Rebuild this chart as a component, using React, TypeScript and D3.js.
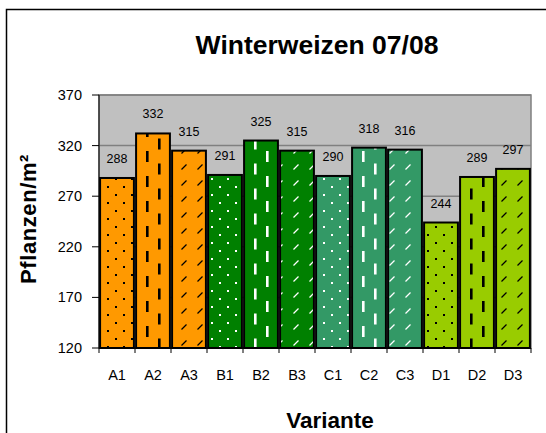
import React from "react";
import * as d3 from "d3";

const categories = ["A1", "A2", "A3", "B1", "B2", "B3", "C1", "C2", "C3", "D1", "D2", "D3"];
const values = [288, 332, 315, 291, 325, 315, 290, 318, 316, 244, 289, 297];
const groupColors = ["#FF9900", "#008000", "#339966", "#99CC00"];
const patternInk = ["#000000", "#ffffff", "#ffffff", "#000000"];
const patternKinds = ["dots", "dash", "diag"];
const yTicks = [120, 170, 220, 270, 320, 370];

const W = 546, H = 433;
const plot = { left: 99, right: 531, top: 95, bottom: 348 };
const FONT = "'Liberation Sans', Arial, sans-serif";

export default function App() {
  const x = d3.scaleBand<string>().domain(categories).range([plot.left, plot.right]).paddingInner(0.06).paddingOuter(0.03);
  const step = (plot.right - plot.left) / categories.length;
  const y = d3.scaleLinear().domain([120, 370]).range([plot.bottom, plot.top]);

  const inkNames = ["k", "w"];
  const patterns: JSX.Element[] = [];
  ["#000000", "#ffffff"].forEach((ink, ii) => {
    patterns.push(
      <pattern key={"dots" + ii} id={"dots-" + inkNames[ii]} patternUnits="userSpaceOnUse" width={16} height={16} x={3} y={2}>
        <rect x={0} y={0} width={2} height={2} fill={ink} />
        <rect x={8} y={8} width={2} height={2} fill={ink} />
      </pattern>
    );
    patterns.push(
      <pattern key={"dash" + ii} id={"dash-" + inkNames[ii]} patternUnits="userSpaceOnUse" width={24} height={25} x={2} y={0}>
        <rect x={0} y={1} width={2.6} height={11} fill={ink} />
        <rect x={12} y={13.5} width={2.6} height={11} fill={ink} />
      </pattern>
    );
    patterns.push(
      <pattern key={"diag" + ii} id={"diag-" + inkNames[ii]} patternUnits="userSpaceOnUse" width={16} height={16} x={4} y={3}>
        <line x1={1.5} y1={6.5} x2={6.5} y2={1.5} stroke={ink} strokeWidth={1.3} />
      </pattern>
    );
  });

  return (
    <svg width={W} height={H} style={{ position: "absolute", left: 0, top: 0 }} fontFamily={FONT}>
      <defs>{patterns}</defs>
      <rect x={0} y={0} width={W} height={H} fill="#fff" />
      <rect x={6.5} y={9.5} width={600} height={500} fill="none" stroke="#000" strokeWidth={1.5} />

      <text x={317} y={54} textAnchor="middle" fontSize={26.5} fontWeight="bold">Winterweizen 07/08</text>

      {/* plot area */}
      <rect x={plot.left} y={plot.top} width={plot.right - plot.left} height={plot.bottom - plot.top} fill="#C0C0C0" stroke="#808080" strokeWidth={1.5} />
      {yTicks.filter((t) => t !== 120).map((t) => (
        <line key={t} x1={plot.left} x2={plot.right} y1={y(t)} y2={y(t)} stroke="#808080" strokeWidth={1.5} />
      ))}

      {/* bars */}
      {categories.map((c, i) => {
        const g = Math.floor(i / 3);
        const kind = patternKinds[i % 3];
        const ink = patternInk[g] === "#000000" ? "k" : "w";
        const bx = x(c)!;
        const bw = x.bandwidth();
        const top = y(values[i]);
        return (
          <g key={c}>
            <rect x={bx} y={top} width={bw} height={plot.bottom - top} fill={groupColors[g]} />
            <rect x={bx} y={top} width={bw} height={plot.bottom - top} fill={`url(#${kind}-${ink})`} stroke="#000" strokeWidth={2} />
            <text x={bx + bw / 2} y={top - 15} textAnchor="middle" fontSize={12.5}>{values[i]}</text>
          </g>
        );
      })}

      {/* axes */}
      <line x1={plot.left} x2={plot.left} y1={plot.top} y2={plot.bottom} stroke="#000" strokeWidth={1} />
      <line x1={plot.left} x2={plot.right} y1={plot.bottom} y2={plot.bottom} stroke="#000" strokeWidth={1} />
      {yTicks.map((t) => (
        <g key={t}>
          <line x1={plot.left - 7} x2={plot.left} y1={y(t)} y2={y(t)} stroke="#000" />
          <text x={plot.left - 17} y={y(t) + 5} textAnchor="end" fontSize={14.5}>{t}</text>
        </g>
      ))}
      {d3.range(categories.length + 1).map((i) => (
        <line key={i} x1={plot.left + i * step} x2={plot.left + i * step} y1={plot.bottom} y2={plot.bottom + 5} stroke="#000" />
      ))}
      {categories.map((c, i) => (
        <text key={c} x={plot.left + (i + 0.5) * step} y={380} textAnchor="middle" fontSize={14.5}>{c}</text>
      ))}

      <text x={330} y={428} textAnchor="middle" fontSize={22.5} fontWeight="bold">Variante</text>
      <text transform={`translate(36,219) rotate(-90)`} textAnchor="middle" fontSize={22} fontWeight="bold" letterSpacing={0.6}>Pflanzen/m²</text>
    </svg>
  );
}
